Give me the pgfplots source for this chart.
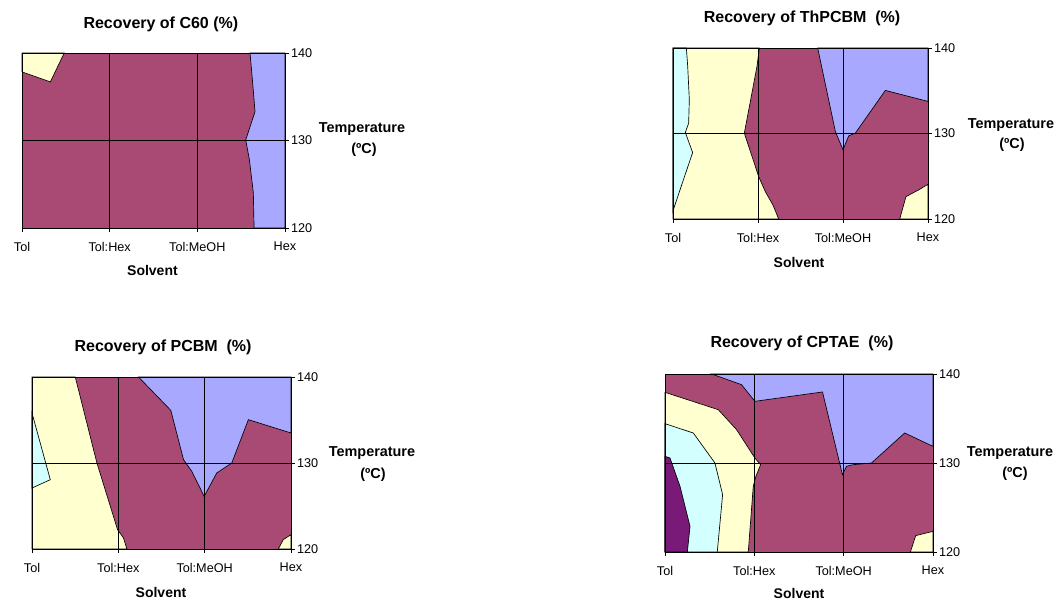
\documentclass[border=0pt]{standalone}
\usepackage{fontspec}
\setmainfont{Liberation Sans}
\usepackage{pgfplots}
\pgfplotsset{compat=1.18}
\definecolor{cmaroon}{RGB}{168,74,116}
\definecolor{cblue}{RGB}{168,168,255}
\definecolor{cyell}{RGB}{255,255,208}
\definecolor{ccyan}{RGB}{212,255,255}
\definecolor{cpurp}{RGB}{122,26,120}
\pgfplotsset{
  contourax/.style={
    scale only axis, clip=false,
    xmin=0, xmax=3, ymin=120, ymax=140,
    xtick={0,1,2,3}, xticklabels={Tol,Tol:Hex,Tol:MeOH,Hex},
    ytick={120,130,140},
    xtick pos=left, ytick pos=right, yticklabel pos=right,
    tick align=outside, major tick length=3pt,
    tick style={black, line width=0.5pt},
    grid=major, grid style={black, line width=0.6pt},
    axis line style={black, line width=0.6pt},
    axis on top,
    /pgf/number format/assume math mode=true,
    tick label style={font=\fontsize{9.5}{10}\selectfont},
    xticklabel style={yshift=-4pt},
    yticklabel style={xshift=-2pt},
    title style={font=\bfseries\fontsize{12}{14}\selectfont, anchor=base},
    xlabel style={font=\bfseries\fontsize{10.5}{12}\selectfont, anchor=base},
    xlabel={Solvent},
  },
  reg/.style={draw=black, line width=0.5pt, fill=#1},
}
\newcommand{\templabel}[4]{%
  \node[font=\bfseries\fontsize{10.8}{12}\selectfont, anchor=base, xshift=#2]
    at (axis description cs:1,#1) {Temperature};
  \node[font=\bfseries\fontsize{10.8}{12}\selectfont, anchor=base, xshift=#4]
    at (axis description cs:1,#3) {(ºC)};
}
\begin{document}
\begin{tikzpicture}
\path (0,0) rectangle (798pt,452.25pt);

% ---- C60 ----
\begin{axis}[contourax, at={(16.5pt,281.25pt)}, anchor=south west,
  width=197.25pt, height=131.25pt,
  title={Recovery of C60 (\%)},
  title style={at={(axis description cs:0.528,1)}, yshift=12.5pt},
  xlabel style={at={(axis description cs:0.496,0)}, yshift=-36pt}]
\addplot[reg=cmaroon] coordinates {(0,120) (3,120) (3,140) (0,140)} -- cycle;
\addplot[reg=cyell] coordinates {(0,140) (0.482,140) (0.323,136.7) (0,137.84)} -- cycle;
\addplot[reg=cblue] coordinates {(2.601,140) (2.632,136.5) (2.658,133.3) (2.552,130.06) (2.594,127.8) (2.639,124.0) (2.647,120) (3,120) (3,140)} -- cycle;
\templabel{0.543}{57.75pt}{0.423}{59.25pt}
\end{axis}

% ---- ThPCBM ----
\begin{axis}[contourax, at={(504.75pt,288pt)}, anchor=south west,
  width=191.25pt, height=128.25pt,
  title={Recovery of ThPCBM\ \ (\%)},
  title style={at={(axis description cs:0.506,1)}, yshift=12.75pt},
  xlabel style={at={(axis description cs:0.494,0)}, yshift=-36.75pt}]
\addplot[reg=cmaroon] coordinates {(0,120) (3,120) (3,140) (0,140)} -- cycle;
\addplot[reg=cyell] coordinates {(0,140) (1.016,140) (0.988,137.85) (0.839,130.04) (1.008,124.96) (1.086,123.2) (1.176,121.64) (1.243,120) (0,120)} -- cycle;
\addplot[reg=ccyan] coordinates {(0,140) (0.157,140) (0.173,137.85) (0.192,133.95) (0.184,131.21) (0.145,130.12) (0.231,127.77) (0.008,121.21) (0,120.66)} -- cycle;
\addplot[reg=cblue] coordinates {(1.702,140) (1.910,130.23) (2.0,128.09) (2.067,129.73) (2.145,130.04) (2.498,135.04) (3,133.75) (3,140)} -- cycle;
\addplot[reg=cyell] coordinates {(2.667,120) (2.741,122.62) (2.890,123.4) (3,124.06) (3,120)} -- cycle;
\templabel{0.532}{62.25pt}{0.415}{63pt}
\end{axis}

% ---- PCBM ----
\begin{axis}[contourax, at={(24pt,40.5pt)}, anchor=south west,
  width=194.25pt, height=129pt,
  title={Recovery of PCBM\ \ (\%)},
  title style={at={(axis description cs:0.506,1)}, yshift=13.5pt},
  xlabel style={at={(axis description cs:0.498,0)}, yshift=-36.75pt}]
\addplot[reg=cmaroon] coordinates {(0,120) (3,120) (3,140) (0,140)} -- cycle;
\addplot[reg=cyell] coordinates {(0,140) (0.501,140) (0.752,130.0) (0.991,122.25) (1.060,121.28) (1.099,120) (0,120)} -- cycle;
\addplot[reg=ccyan] coordinates {(0,135.81) (0.212,128.06) (0,127.09)} -- cycle;
\addplot[reg=cblue] coordinates {(1.234,140) (1.608,136.12) (1.755,130.39) (1.851,129.03) (1.994,126.12) (2.140,128.84) (2.314,130.0) (2.506,135.04) (3,133.49) (3,140)} -- cycle;
\addplot[reg=cyell] coordinates {(2.853,120) (2.911,121.09) (3,121.67) (3,120)} -- cycle;
\templabel{0.535}{60.75pt}{0.407}{61.5pt}
\end{axis}

% ---- CPTAE ----
\begin{axis}[contourax, at={(498.75pt,38.25pt)}, anchor=south west,
  width=201pt, height=133.5pt,
  title={Recovery of CPTAE\ \ (\%)},
  title style={at={(axis description cs:0.511,1)}, yshift=13.5pt},
  xlabel style={at={(axis description cs:0.5,0)}, yshift=-34.5pt}]
\addplot[reg=cmaroon] coordinates {(0,120) (3,120) (3,140) (0,140)} -- cycle;
\addplot[reg=cyell] coordinates {(0,137.94) (0.596,135.99) (0.801,133.75) (1.006,130.56) (1.070,129.81) (1.017,128.50) (0.988,127.38) (0.932,120) (0,120)} -- cycle;
\addplot[reg=ccyan] coordinates {(0,134.42) (0.317,133.37) (0.559,130.0) (0.645,126.44) (0.585,120) (0,120)} -- cycle;
\addplot[reg=cpurp] coordinates {(0,130.75) (0.056,130.56) (0.168,127.38) (0.280,122.88) (0.250,120) (0,120)} -- cycle;
\addplot[reg=cblue] coordinates {(0.522,140) (0.857,138.80) (1.006,136.93) (1.763,137.98) (1.986,128.69) (2.031,129.63) (2.106,129.81) (2.311,130.0) (2.683,133.37) (3,131.87) (3,140)} -- cycle;
\addplot[reg=cyell] coordinates {(2.747,120) (2.806,121.84) (3,122.32) (3,120)} -- cycle;
\templabel{0.534}{57.75pt}{0.416}{61.5pt}
\end{axis}
\end{tikzpicture}
\end{document}
